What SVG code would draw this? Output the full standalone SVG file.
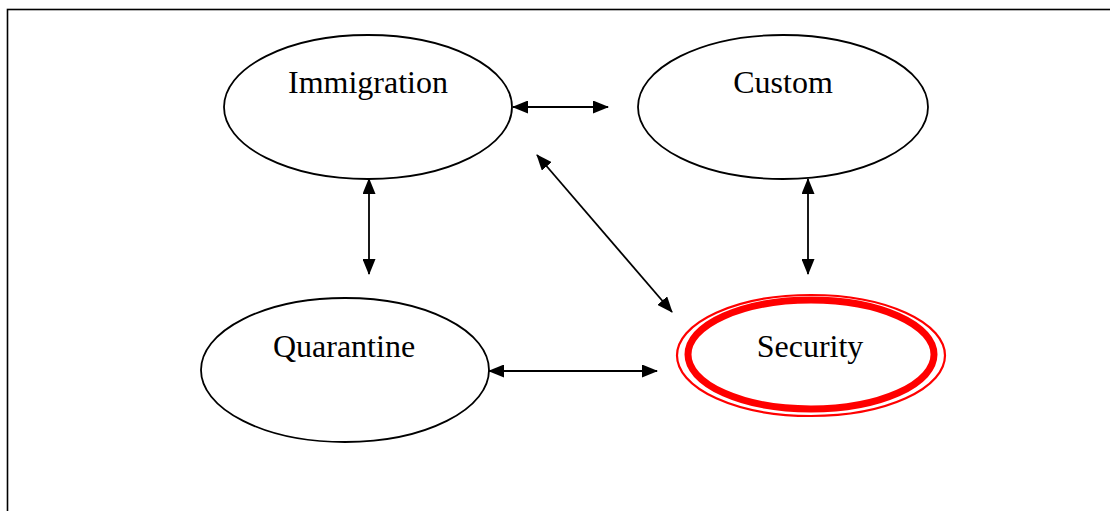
<svg xmlns="http://www.w3.org/2000/svg" width="1110" height="511" viewBox="0 0 1110 511">
<defs>
<marker id="ah" viewBox="0 0 16 13" refX="15" refY="6.5" markerWidth="16" markerHeight="13" markerUnits="userSpaceOnUse" orient="auto-start-reverse">
<path d="M0,0 L16,6.5 L0,13 Z" fill="#000"/>
</marker>
</defs>
<style>
.node ellipse{fill:#fff;stroke:#000;stroke-width:1.8}
.lbl{font-family:"Liberation Serif","Times New Roman",serif;font-size:32px;fill:#000;text-anchor:middle}
.conn line{stroke:#000;stroke-width:1.8;marker-start:url(#ah);marker-end:url(#ah)}
</style>
<rect width="1110" height="511" fill="#fff"/>
<rect x="7.5" y="9.5" width="1120" height="520" fill="none" stroke="#000" stroke-width="1.6"/>
<g id="immigration" class="node">
<ellipse cx="368" cy="107" rx="144" ry="72"/>
<text class="lbl" x="368" y="93">Immigration</text>
</g>
<g id="custom" class="node">
<ellipse cx="783" cy="107" rx="145" ry="72"/>
<text class="lbl" x="783" y="93">Custom</text>
</g>
<g id="quarantine" class="node">
<ellipse cx="345" cy="370" rx="144" ry="72"/>
<text class="lbl" x="344" y="357">Quarantine</text>
</g>
<g id="security">
<ellipse cx="811" cy="355.5" rx="134" ry="60.5" fill="#fff" stroke="#f00" stroke-width="2.2"/>
<ellipse cx="811" cy="354.5" rx="123" ry="54.5" fill="none" stroke="#f00" stroke-width="7"/>
<text class="lbl" x="810" y="357">Security</text>
</g>
<g id="connectors" class="conn">
<line x1="513" y1="107" x2="608" y2="107"/>
<line x1="369" y1="179" x2="369" y2="274"/>
<line x1="808" y1="179" x2="808" y2="274"/>
<line x1="537" y1="155" x2="672" y2="312"/>
<line x1="489" y1="371" x2="657" y2="371"/>
</g>
</svg>
